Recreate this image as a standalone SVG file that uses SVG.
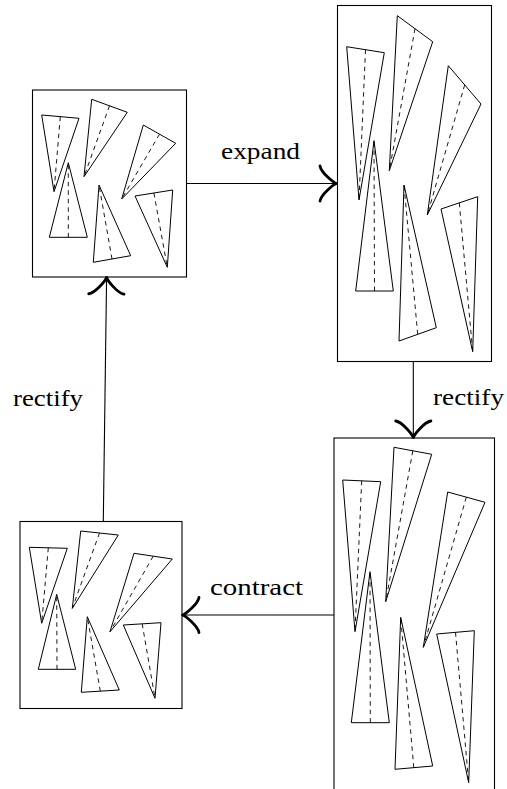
<svg xmlns="http://www.w3.org/2000/svg" xmlns:xlink="http://www.w3.org/1999/xlink" width="507" height="789" viewBox="0 0 507 789">
  <style>
    .frame { fill: none; stroke: #000; stroke-width: 1.1; }
    .tri { fill: none; stroke: #000; stroke-width: 1; stroke-linejoin: miter; }
    .mid { fill: none; stroke: #000; stroke-width: 0.9; stroke-dasharray: 4.5 4; }
    .shaft { fill: none; stroke: #000; stroke-width: 1.1; }
    .head { fill: none; stroke: #000; stroke-width: 2.8; stroke-linecap: round; stroke-linejoin: round; }
    .lbl { font-family: "Liberation Serif", "DejaVu Serif", serif; font-size: 23px; fill: #000; }
  </style>
  <defs>
    <!-- curved "to"-style arrow tip, pointing along +x with its point at the origin -->
    <path id="tip" d="M -16.5,-17.6 C -15.4,-11 -3.3,-1.1 0,0 C -3.3,1.1 -15.4,11 -16.5,17.6"/>
  </defs>

  <rect width="507" height="789" fill="#fff"/>

  <!-- top-left panel -->
  <g id="panel-start">
    <rect class="frame" x="32.5" y="90" width="154" height="187"/>
    <polygon class="tri" points="54,191.7 41.7,115 79,118.3"/>
    <line class="mid" x1="60.3" y1="116.7" x2="54" y2="191.7"/>
    <polygon class="tri" points="84,176.7 91.7,99.3 127.3,112.3"/>
    <line class="mid" x1="109.5" y1="105.8" x2="84" y2="176.7"/>
    <polygon class="tri" points="121.7,199 143.3,125 175.7,143.3"/>
    <line class="mid" x1="159.5" y1="134.2" x2="121.7" y2="199"/>
    <polygon class="tri" points="68.3,162.7 49.3,237.3 87.3,237.3"/>
    <line class="mid" x1="68.3" y1="237.3" x2="68.3" y2="162.7"/>
    <polygon class="tri" points="99,185 93.3,262.3 130.7,255.7"/>
    <line class="mid" x1="112" y1="259" x2="99" y2="185"/>
    <polygon class="tri" points="167.3,267.3 135,196 172.7,190"/>
    <line class="mid" x1="153.9" y1="193" x2="167.3" y2="267.3"/>
  </g>

  <!-- top-right panel -->
  <g id="panel-expanded">
    <rect class="frame" x="337.5" y="5.5" width="154" height="356"/>
    <polygon class="tri" points="359,200 346.7,46.7 384.3,52.7"/>
    <line class="mid" x1="365.5" y1="49.7" x2="359" y2="200"/>
    <polygon class="tri" points="389.3,170.7 397.3,15.7 432.7,41.7"/>
    <line class="mid" x1="415" y1="28.7" x2="389.3" y2="170.7"/>
    <polygon class="tri" points="427.3,215 448.3,65.7 481,104"/>
    <line class="mid" x1="464.7" y1="84.8" x2="427.3" y2="215"/>
    <polygon class="tri" points="374,140.7 355.7,291 393.3,291"/>
    <line class="mid" x1="374.5" y1="291" x2="374" y2="140.7"/>
    <polygon class="tri" points="404,185 399,341 436.3,327.7"/>
    <line class="mid" x1="417.7" y1="334.3" x2="404" y2="185"/>
    <polygon class="tri" points="472.7,351.7 441,209 477.7,196.7"/>
    <line class="mid" x1="459.3" y1="202.8" x2="472.7" y2="351.7"/>
  </g>

  <!-- bottom-right panel (runs past the lower edge) -->
  <g id="panel-rectified">
    <rect class="frame" x="334" y="438" width="160.5" height="400"/>
    <polygon class="tri" points="355,631.7 342.7,480 380.7,481.7"/>
    <line class="mid" x1="361.7" y1="480.8" x2="355" y2="631.7"/>
    <polygon class="tri" points="385.7,601.7 394,447.3 431.7,454.3"/>
    <line class="mid" x1="412.8" y1="450.8" x2="385.7" y2="601.7"/>
    <polygon class="tri" points="423.3,647.3 447.7,492 485,502.3"/>
    <line class="mid" x1="466.3" y1="497.2" x2="423.3" y2="647.3"/>
    <polygon class="tri" points="370,571.7 351.3,722.7 389.3,722.7"/>
    <line class="mid" x1="370.3" y1="722.7" x2="370" y2="571.7"/>
    <polygon class="tri" points="400.7,617.3 395,769.3 432.7,766"/>
    <line class="mid" x1="413.8" y1="767.7" x2="400.7" y2="617.3"/>
    <polygon class="tri" points="468.7,782.7 436.7,634 474.3,630.7"/>
    <line class="mid" x1="455.5" y1="632.3" x2="468.7" y2="782.7"/>
  </g>

  <!-- bottom-left panel -->
  <g id="panel-contracted">
    <rect class="frame" x="20" y="521.5" width="162" height="187"/>
    <polygon class="tri" points="41.7,623.3 29.3,547.3 67.3,548.3"/>
    <line class="mid" x1="48.3" y1="547.8" x2="41.7" y2="623.3"/>
    <polygon class="tri" points="72.3,608.3 80.7,531 118.3,535"/>
    <line class="mid" x1="99.5" y1="533" x2="72.3" y2="608.3"/>
    <polygon class="tri" points="110,631.7 134,553.3 172.3,559"/>
    <line class="mid" x1="153.2" y1="556.2" x2="110" y2="631.7"/>
    <polygon class="tri" points="56.7,594.3 38.3,669.3 75.7,669.3"/>
    <line class="mid" x1="57" y1="669.3" x2="56.7" y2="594.3"/>
    <polygon class="tri" points="87.3,616.7 81.3,692.3 119.3,690"/>
    <line class="mid" x1="100.3" y1="691.2" x2="87.3" y2="616.7"/>
    <polygon class="tri" points="155,698.3 123.3,625 161,622.7"/>
    <line class="mid" x1="142.2" y1="623.8" x2="155" y2="698.3"/>
  </g>

  <!-- connectors -->
  <g id="connectors">
    <line class="shaft" x1="186.5" y1="183.5" x2="337" y2="183.5"/>
    <use xlink:href="#tip" class="head" transform="translate(336.5,183.5)"/>
    <text class="lbl" x="221" y="159" textLength="79" lengthAdjust="spacingAndGlyphs">expand</text>

    <line class="shaft" x1="413.3" y1="361.5" x2="413.3" y2="438"/>
    <use xlink:href="#tip" class="head" transform="translate(413.3,437.5) rotate(90)"/>
    <text class="lbl" x="433" y="405" textLength="71" lengthAdjust="spacingAndGlyphs">rectify</text>

    <line class="shaft" x1="334" y1="615" x2="182" y2="615"/>
    <use xlink:href="#tip" class="head" transform="translate(182.5,615) rotate(180)"/>
    <text class="lbl" x="210" y="595" textLength="93" lengthAdjust="spacingAndGlyphs">contract</text>

    <line class="shaft" x1="103.3" y1="521.5" x2="106.6" y2="277"/>
    <use xlink:href="#tip" class="head" transform="translate(106.6,277.5) rotate(-89.2)"/>
    <text class="lbl" x="13" y="405.5" textLength="70" lengthAdjust="spacingAndGlyphs">rectify</text>
  </g>
</svg>
